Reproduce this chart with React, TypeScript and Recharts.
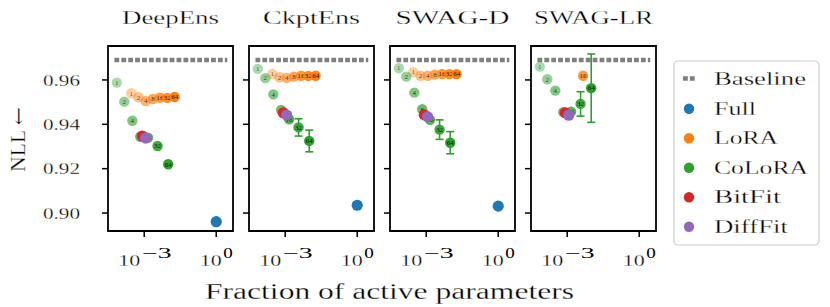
import React from 'react';
import {
  ScatterChart,
  Scatter,
  XAxis,
  YAxis,
  ReferenceLine,
  ReferenceArea,
  ErrorBar,
} from 'recharts';

// ── Data ───────────────────────────────────────────────────────
const PANELS = ['DeepEns', 'CkptEns', 'SWAG-D', 'SWAG-LR'];
const RANKS = [1, 2, 4, 8, 16, 32, 64];

// fraction of active parameters (same for every panel)
const LORA_FRAC = [2.9e-4, 5.8e-4, 1.15e-3, 2.3e-3, 4.6e-3, 9.2e-3, 1.85e-2];
const COLORA_FRAC = [7.2e-5, 1.48e-4, 3.2e-4, 6.8e-4, 1.45e-3, 3.6e-3, 1.0e-2];
const BITFIT_FRAC = 8.3e-4;
const DIFFFIT_FRAC = 1.15e-3;
const FULL_FRAC = 1;

// NLL per panel (rows follow PANELS, columns follow RANKS)
const LORA_NLL = [
  [0.954, 0.9522, 0.9505, 0.9514, 0.952, 0.9519, 0.9523],
  [0.9627, 0.9612, 0.9609, 0.9615, 0.9619, 0.9618, 0.9619],
  [0.9635, 0.9619, 0.9619, 0.9624, 0.9627, 0.9626, 0.9626],
  [null, null, null, null, 0.9619, null, null],
];
const COLORA_NLL = [
  [0.9588, 0.9502, 0.9416, 0.9344, 0.934, 0.9302, 0.922],
  [0.965, 0.9608, 0.9535, 0.9465, 0.9423, 0.9386, 0.9325],
  [0.9653, 0.9615, 0.9543, 0.9468, 0.942, 0.9376, 0.9317],
  [0.966, 0.9603, 0.9552, 0.9455, 0.9457, 0.9492, 0.9563],
];
const COLORA_ERR = [
  [null, null, null, null, null, null, null],
  [null, null, null, null, null, 0.0039, 0.0049],
  [null, null, null, null, null, 0.0044, 0.005],
  [null, null, null, null, null, 0.0055, 0.0154],
];
const BITFIT_NLL = [0.9347, 0.9452, 0.9443, 0.9452];
const DIFFFIT_NLL = [0.9338, 0.9442, 0.9434, 0.9441];
const FULL_NLL = [0.8961, 0.9035, 0.9031, null];
const BASELINE_NLL = [0.969, 0.969, 0.969, 0.969];
const BASELINE_SPAN = [5.75e-5, 2.88];

const X_TICKS = [1e-3, 1];
const Y_TICKS = [0.9, 0.92, 0.94, 0.96];
const X_DOMAIN: [number, number] = [3.1e-5, 5.0];
const Y_DOMAIN: [number, number] = [0.8919, 0.9753];

const LEGEND_NAMES = ['Baseline', 'Full', 'LoRA', 'CoLoRA', 'BitFit', 'DiffFit'];

// ── Style ──────────────────────────────────────────────────────
const SERIF = '"Liberation Serif", "Times New Roman", serif';
const C_BASE = '#7f7f7f';
const C_FULL = '#1f77b4';
const C_LORA = '#ff7f0e';
const C_COLORA = '#2ca02c';
const C_BITFIT = '#d62728';
const C_DIFFFIT = '#9467bd';
const LEGEND_COLORS = [C_BASE, C_FULL, C_LORA, C_COLORA, C_BITFIT, C_DIFFFIT];
const LEGEND_TEXT_W = [92, 42, 64, 94, 67, 74];

const W = 830;
const H = 307;
const PANEL_LEFT = [108, 249, 390, 531];
const PANEL_W = 125;
const PLOT_TOP = 46;
const X_AXIS_H = 76;
const TITLE_W = [97, 97, 114, 119];

// stretched glyphs get heavy stems; a thin white outline keeps them lighter
const THIN = { stroke: '#fff', strokeWidth: 0.28 };

interface Pt {
  x: number;
  y: number;
  rank?: number;
  err?: number | null;
}

function rankPoints(frac: number[], nll: (number | null)[], err?: (number | null)[]): Pt[] {
  const out: Pt[] = [];
  nll.forEach((v, i) => {
    if (v == null) return;
    out.push({ x: frac[i], y: v, rank: RANKS[i], err: err ? err[i] : null });
  });
  return out;
}

// circle with the rank written inside, paler for small ranks
const rankShape = (color: string) => (p: any) => {
  const { cx, cy, payload } = p;
  if (cx == null || cy == null) return <g />;
  const a = 0.4 + 0.1 * Math.log2(payload.rank);
  return (
    <g>
      <circle cx={cx} cy={cy} r={5.2} fill={color} fillOpacity={a} />
      <text
        x={cx}
        y={cy + 2.3}
        textAnchor="middle"
        fontSize={7}
        fontFamily={SERIF}
        fill="#000"
        fillOpacity={0.5 + 0.4 * a}
      >
        {payload.rank}
      </text>
    </g>
  );
};

const plainShape = (color: string) => (p: any) => {
  if (p.cx == null || p.cy == null) return <g />;
  return <circle cx={p.cx} cy={p.cy} r={5.6} fill={color} />;
};

function YTick(props: any) {
  const { x, y, payload, show } = props;
  if (!show) return <g />;
  return (
    <text
      x={x - 22}
      y={y + 5.8}
      textAnchor="end"
      fontSize={17.5}
      fontFamily={SERIF}
      textLength={37}
      lengthAdjust="spacingAndGlyphs"
      fill="#000"
      {...THIN}
    >
      {payload.value.toFixed(2)}
    </text>
  );
}

function XTick(props: any) {
  const { x, y, payload } = props;
  const exp = Math.round(Math.log10(payload.value));
  const sup = exp < 0 ? `\u2212${-exp}` : `${exp}`;
  const wide = exp < 0;
  return (
    <g fontFamily={SERIF} fill="#000">
      <text
        x={wide ? x - 4 : x + 5.5}
        y={y + 29}
        textAnchor="end"
        fontSize={17.5}
        textLength={22}
        lengthAdjust="spacingAndGlyphs"
        {...THIN}
      >
        10
      </text>
      <text
        x={wide ? x - 2 : x + 7}
        y={y + 21.3}
        fontSize={14}
        textLength={wide ? 29.5 : 9.5}
        lengthAdjust="spacingAndGlyphs"
      >
        {sup}
      </text>
    </g>
  );
}

function Panel({ idx }: { idx: number }) {
  const left = PANEL_LEFT[idx];
  const yw = idx === 0 ? 100 : 10;
  const lora = rankPoints(LORA_FRAC, LORA_NLL[idx]);
  const colora = rankPoints(COLORA_FRAC, COLORA_NLL[idx], COLORA_ERR[idx]);
  const full = FULL_NLL[idx] == null ? [] : [{ x: FULL_FRAC, y: FULL_NLL[idx] as number }];
  const bitfit = [{ x: BITFIT_FRAC, y: BITFIT_NLL[idx] }];
  const difffit = [{ x: DIFFFIT_FRAC, y: DIFFFIT_NLL[idx] }];
  const base = BASELINE_NLL[idx];

  return (
    <div style={{ position: 'absolute', left: 0, top: 0 }}>
      <ScatterChart
        width={W}
        height={H}
        margin={{ top: PLOT_TOP, bottom: 0, left: left - yw, right: W - left - PANEL_W }}
      >
        <XAxis
          type="number"
          dataKey="x"
          scale="log"
          domain={X_DOMAIN}
          allowDataOverflow
          ticks={X_TICKS}
          interval={0}
          height={X_AXIS_H}
          axisLine={false}
          tickLine={{ stroke: '#000', strokeWidth: 1.5 }}
          tickSize={6}
          tickMargin={0}
          tick={<XTick />}
        />
        <YAxis
          type="number"
          dataKey="y"
          domain={Y_DOMAIN}
          allowDataOverflow
          ticks={Y_TICKS}
          interval={0}
          width={yw}
          axisLine={false}
          tickLine={{ stroke: '#000', strokeWidth: 1.5 }}
          tickSize={6}
          tickMargin={0}
          tick={<YTick show={idx === 0} />}
        />
        <ReferenceArea
          x1={X_DOMAIN[0]}
          x2={X_DOMAIN[1]}
          y1={Y_DOMAIN[0]}
          y2={Y_DOMAIN[1]}
          fill="none"
          stroke="#000"
          strokeWidth={1.8}
        />
        <ReferenceLine
          segment={[
            { x: BASELINE_SPAN[0], y: base },
            { x: BASELINE_SPAN[1], y: base },
          ]}
          stroke={C_BASE}
          strokeWidth={4.5}
          strokeDasharray="4.8 2.1"
        />
        <Scatter data={full} isAnimationActive={false} shape={plainShape(C_FULL)} />
        <Scatter data={lora} isAnimationActive={false} shape={rankShape(C_LORA)} />
        <Scatter data={colora} isAnimationActive={false} shape={rankShape(C_COLORA)}>
          <ErrorBar dataKey="err" direction="y" width={4} stroke={C_COLORA} strokeWidth={1.6} />
        </Scatter>
        <Scatter data={bitfit} isAnimationActive={false} shape={plainShape(C_BITFIT)} />
        <Scatter data={difffit} isAnimationActive={false} shape={plainShape(C_DIFFFIT)} />
      </ScatterChart>
    </div>
  );
}

function Overlay() {
  const lx = 674;
  const ly = 61;
  return (
    <svg
      width={W}
      height={H}
      style={{ position: 'absolute', left: 0, top: 0, pointerEvents: 'none' }}
      fontFamily={SERIF}
    >
      <g fill="#000" {...THIN}>
        {PANELS.map((t, i) => (
          <text
            key={t}
            x={PANEL_LEFT[i] + PANEL_W / 2}
            y={24}
            textAnchor="middle"
            fontSize={18}
            textLength={TITLE_W[i]}
            lengthAdjust="spacingAndGlyphs"
          >
            {t}
          </text>
        ))}
        <text x={205} y={299} fontSize={24} textLength={369} lengthAdjust="spacingAndGlyphs">
          Fraction of active parameters
        </text>
        <text
          transform="translate(25,139.5) rotate(-90)"
          textAnchor="middle"
          fontSize={20}
          textLength={65}
          lengthAdjust="spacingAndGlyphs"
        >
          NLL <tspan fontFamily='"DejaVu Serif", serif'>{'\u2190'}</tspan>
        </text>
      </g>

      {/* legend */}
      <rect x={lx} y={ly} width={145} height={184} rx={4} fill="#fff" fillOpacity={0.8} stroke="#cccccc" strokeWidth={1.2} />
      {LEGEND_NAMES.map((name, i) => {
        const by = 85 + i * 29.5;
        return (
          <g key={name}>
            {i === 0 ? (
              <line x1={683} x2={695} y1={by - 6.5} y2={by - 6.5} stroke={LEGEND_COLORS[i]} strokeWidth={4.5} strokeDasharray="4.8 2.1" />
            ) : (
              <circle cx={689} cy={by - 5.8} r={5.2} fill={LEGEND_COLORS[i]} />
            )}
            <text
              x={714}
              y={by}
              fontSize={18}
              textLength={LEGEND_TEXT_W[i]}
              lengthAdjust="spacingAndGlyphs"
              fill="#000"
              {...THIN}
            >
              {name}
            </text>
          </g>
        );
      })}
    </svg>
  );
}

export default function App() {
  return (
    <div style={{ position: 'absolute', left: 0, top: 0, width: W, height: H, background: '#fff' }}>
      {PANELS.map((p, i) => (
        <Panel key={p} idx={i} />
      ))}
      <Overlay />
    </div>
  );
}
